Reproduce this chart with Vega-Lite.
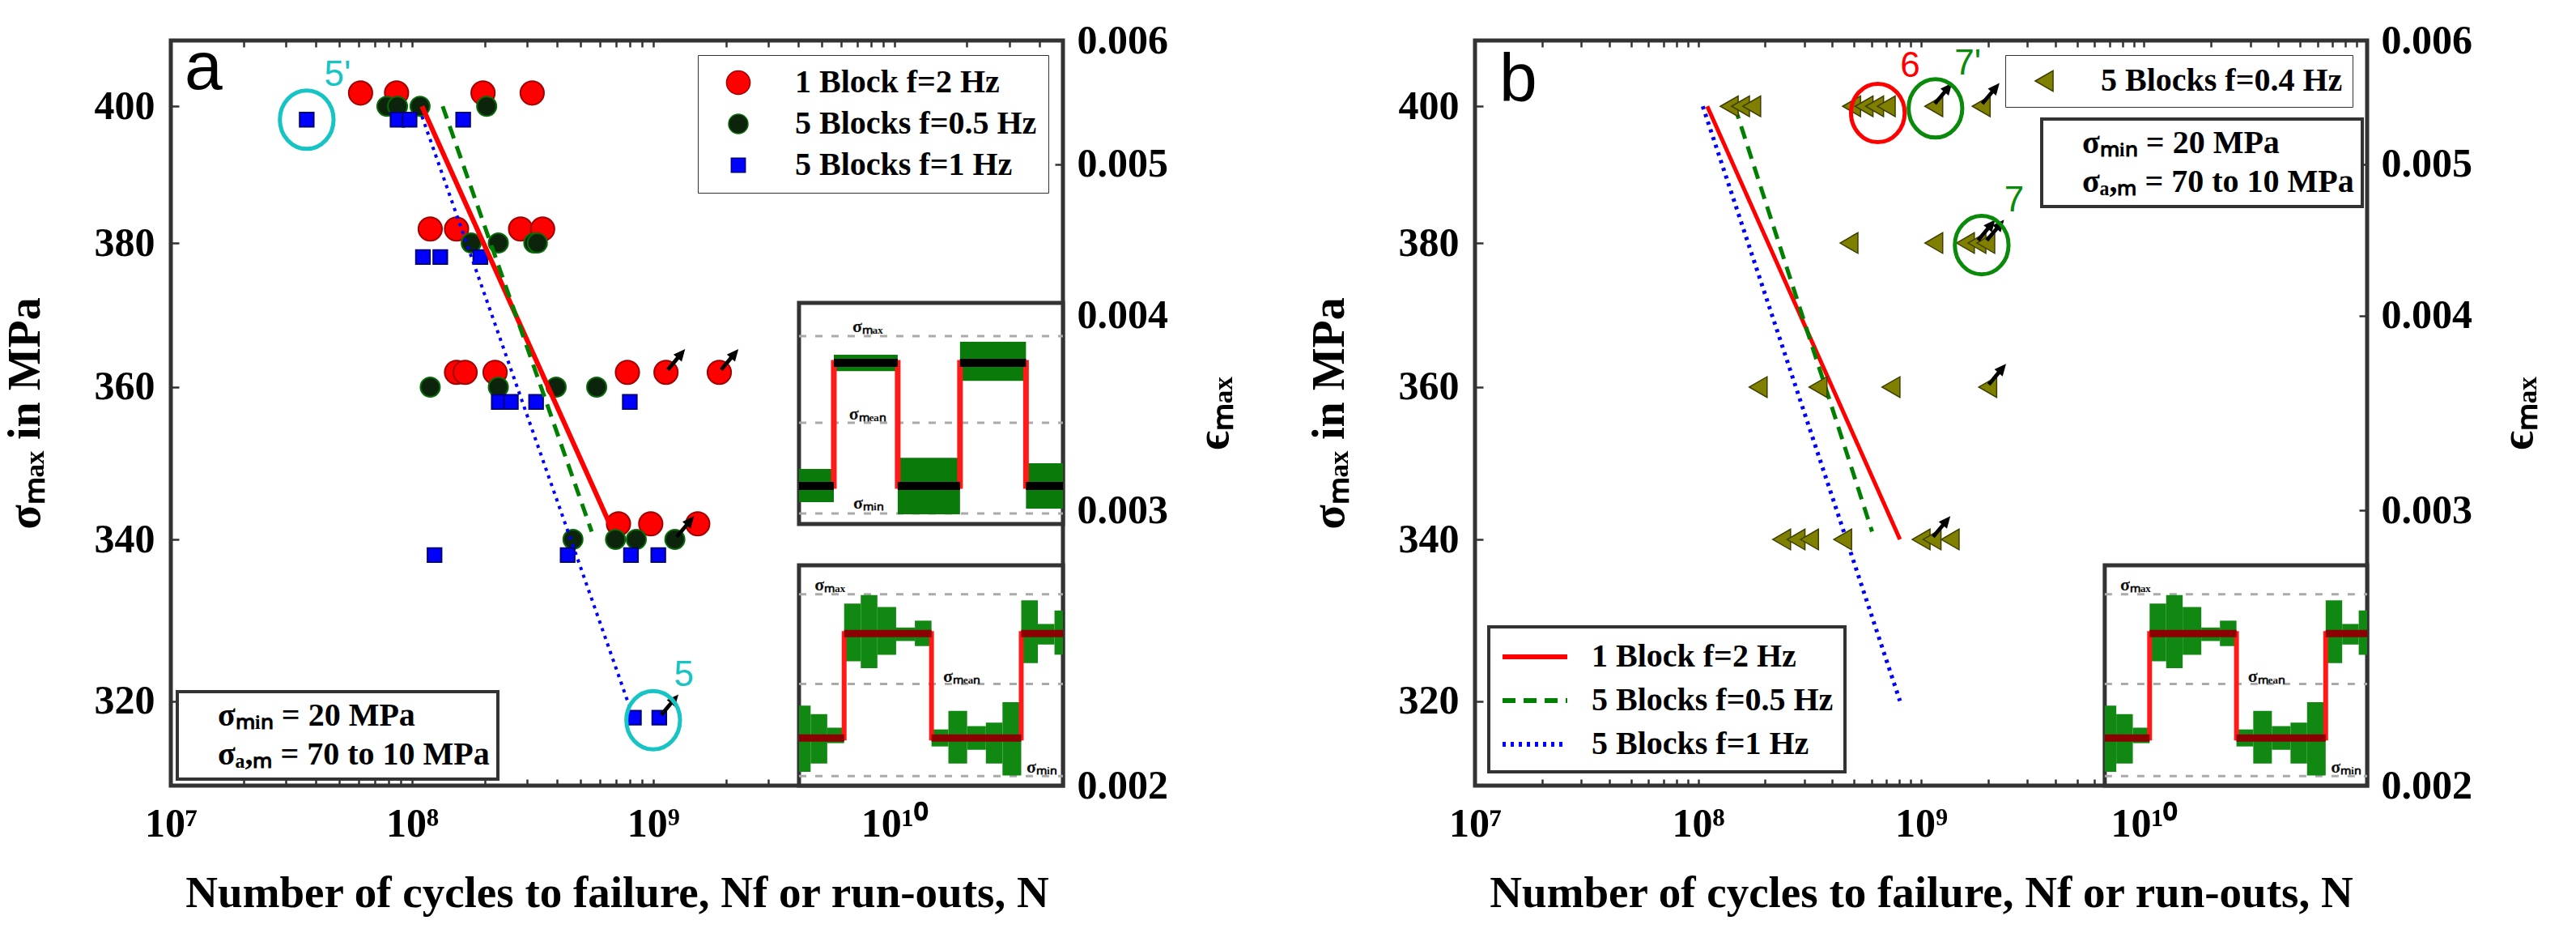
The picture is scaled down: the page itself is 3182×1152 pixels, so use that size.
{
  "$schema": "https://vega.github.io/schema/vega-lite/v6.json",
  "background": "white",
  "autosize": {"type": "pad"},
  "padding": {"left": 0, "top": 22, "right": 10, "bottom": 10},
  "spacing": 81,
  "resolve": {"scale": {"color": "independent", "stroke": "independent", "shape": "independent", "size": "independent", "fill": "independent", "strokeDash": "independent"}},
  "config": {
    "view": {"stroke": "#333333", "strokeWidth": 5},
    "font": "Liberation Serif",
    "axis": {
      "domain": false, "grid": false,
      "labelFont": "Liberation Serif", "labelFontSize": 50, "labelFontWeight": "bold", "labelColor": "#000000",
      "titleFont": "Liberation Serif", "titleFontSize": 56, "titleFontWeight": "bold", "titleColor": "#000000",
      "tickColor": "#333333", "tickWidth": 2.5,
      "labelFlush": false, "labelOverlap": false, "labelBound": false
    },
    "legend": {
      "labelFont": "Liberation Serif", "labelFontSize": 40, "labelFontWeight": "bold", "labelColor": "#000000",
      "strokeColor": "#333333", "fillColor": "#ffffff", "cornerRadius": 0, "labelLimit": 800
    }
  },
  "datasets": {
    "ptsA": [
      {"series": "1 Block f=2 Hz", "N": 6.12e7, "s": 402, "ro": 0},
      {"series": "1 Block f=2 Hz", "N": 8.63e7, "s": 402, "ro": 0},
      {"series": "1 Block f=2 Hz", "N": 1.97e8, "s": 402, "ro": 0},
      {"series": "1 Block f=2 Hz", "N": 3.15e8, "s": 402, "ro": 0},
      {"series": "1 Block f=2 Hz", "N": 1.19e8, "s": 382, "ro": 0},
      {"series": "1 Block f=2 Hz", "N": 1.53e8, "s": 382, "ro": 0},
      {"series": "1 Block f=2 Hz", "N": 2.82e8, "s": 382, "ro": 0},
      {"series": "1 Block f=2 Hz", "N": 3.48e8, "s": 382, "ro": 0},
      {"series": "1 Block f=2 Hz", "N": 1.53e8, "s": 362, "ro": 0},
      {"series": "1 Block f=2 Hz", "N": 1.66e8, "s": 362, "ro": 0},
      {"series": "1 Block f=2 Hz", "N": 2.21e8, "s": 362, "ro": 0},
      {"series": "1 Block f=2 Hz", "N": 7.82e8, "s": 362, "ro": 0},
      {"series": "1 Block f=2 Hz", "N": 1.13e9, "s": 362, "ro": 1},
      {"series": "1 Block f=2 Hz", "N": 1.88e9, "s": 362, "ro": 1},
      {"series": "1 Block f=2 Hz", "N": 7.18e8, "s": 342, "ro": 0},
      {"series": "1 Block f=2 Hz", "N": 9.77e8, "s": 342, "ro": 0},
      {"series": "1 Block f=2 Hz", "N": 1.53e9, "s": 342, "ro": 0},
      {"series": "5 Blocks f=0.5 Hz", "N": 7.87e7, "s": 400, "ro": 0},
      {"series": "5 Blocks f=0.5 Hz", "N": 8.71e7, "s": 400, "ro": 0},
      {"series": "5 Blocks f=0.5 Hz", "N": 1.08e8, "s": 400, "ro": 0},
      {"series": "5 Blocks f=0.5 Hz", "N": 2.04e8, "s": 400, "ro": 0},
      {"series": "5 Blocks f=0.5 Hz", "N": 1.76e8, "s": 380, "ro": 0},
      {"series": "5 Blocks f=0.5 Hz", "N": 2.28e8, "s": 380, "ro": 0},
      {"series": "5 Blocks f=0.5 Hz", "N": 3.2e8, "s": 380, "ro": 0},
      {"series": "5 Blocks f=0.5 Hz", "N": 3.31e8, "s": 380, "ro": 0},
      {"series": "5 Blocks f=0.5 Hz", "N": 1.19e8, "s": 360, "ro": 0},
      {"series": "5 Blocks f=0.5 Hz", "N": 2.28e8, "s": 360, "ro": 0},
      {"series": "5 Blocks f=0.5 Hz", "N": 3.96e8, "s": 360, "ro": 0},
      {"series": "5 Blocks f=0.5 Hz", "N": 5.83e8, "s": 360, "ro": 0},
      {"series": "5 Blocks f=0.5 Hz", "N": 4.65e8, "s": 340, "ro": 0},
      {"series": "5 Blocks f=0.5 Hz", "N": 6.98e8, "s": 340, "ro": 0},
      {"series": "5 Blocks f=0.5 Hz", "N": 8.51e8, "s": 340, "ro": 0},
      {"series": "5 Blocks f=0.5 Hz", "N": 1.23e9, "s": 340, "ro": 1},
      {"series": "5 Blocks f=1 Hz", "N": 3.66e7, "s": 398, "ro": 0},
      {"series": "5 Blocks f=1 Hz", "N": 8.71e7, "s": 398, "ro": 0},
      {"series": "5 Blocks f=1 Hz", "N": 9.77e7, "s": 398, "ro": 0},
      {"series": "5 Blocks f=1 Hz", "N": 1.63e8, "s": 398, "ro": 0},
      {"series": "5 Blocks f=1 Hz", "N": 1.11e8, "s": 378, "ro": 0},
      {"series": "5 Blocks f=1 Hz", "N": 1.31e8, "s": 378, "ro": 0},
      {"series": "5 Blocks f=1 Hz", "N": 1.92e8, "s": 378, "ro": 0},
      {"series": "5 Blocks f=1 Hz", "N": 2.29e8, "s": 358, "ro": 0},
      {"series": "5 Blocks f=1 Hz", "N": 2.57e8, "s": 358, "ro": 0},
      {"series": "5 Blocks f=1 Hz", "N": 3.27e8, "s": 358, "ro": 0},
      {"series": "5 Blocks f=1 Hz", "N": 8.0e8, "s": 358, "ro": 0},
      {"series": "5 Blocks f=1 Hz", "N": 1.24e8, "s": 338, "ro": 0},
      {"series": "5 Blocks f=1 Hz", "N": 4.42e8, "s": 338, "ro": 0},
      {"series": "5 Blocks f=1 Hz", "N": 8.09e8, "s": 338, "ro": 0},
      {"series": "5 Blocks f=1 Hz", "N": 1.05e9, "s": 338, "ro": 0},
      {"series": "5 Blocks f=1 Hz", "N": 8.32e8, "s": 318, "ro": 0},
      {"series": "5 Blocks f=1 Hz", "N": 1.06e9, "s": 318, "ro": 1}
    ],
    "fitA": [
      {"series": "1 Block f=2 Hz", "i": 0, "N": 1.1e8, "s": 400},
      {"series": "1 Block f=2 Hz", "i": 1, "N": 6.6e8, "s": 342},
      {"series": "5 Blocks f=0.5 Hz", "i": 0, "N": 1.34e8, "s": 400},
      {"series": "5 Blocks f=0.5 Hz", "i": 1, "N": 5.56e8, "s": 341},
      {"series": "5 Blocks f=1 Hz", "i": 0, "N": 1.1e8, "s": 398.5},
      {"series": "5 Blocks f=1 Hz", "i": 1, "N": 7.94e8, "s": 319.5}
    ],
    "ptsB": [
      {"series": "5 Blocks f=0.4 Hz", "N": 1.38e8, "s": 400, "ro": 0},
      {"series": "5 Blocks f=0.4 Hz", "N": 1.55e8, "s": 400, "ro": 0},
      {"series": "5 Blocks f=0.4 Hz", "N": 1.74e8, "s": 400, "ro": 0},
      {"series": "5 Blocks f=0.4 Hz", "N": 4.88e8, "s": 400, "ro": 0},
      {"series": "5 Blocks f=0.4 Hz", "N": 5.55e8, "s": 400, "ro": 0},
      {"series": "5 Blocks f=0.4 Hz", "N": 6.19e8, "s": 400, "ro": 0},
      {"series": "5 Blocks f=0.4 Hz", "N": 6.98e8, "s": 400, "ro": 0},
      {"series": "5 Blocks f=0.4 Hz", "N": 1.14e9, "s": 400, "ro": 1},
      {"series": "5 Blocks f=0.4 Hz", "N": 1.86e9, "s": 400, "ro": 1},
      {"series": "5 Blocks f=0.4 Hz", "N": 4.75e8, "s": 380, "ro": 0},
      {"series": "5 Blocks f=0.4 Hz", "N": 1.14e9, "s": 380, "ro": 0},
      {"series": "5 Blocks f=0.4 Hz", "N": 1.58e9, "s": 380, "ro": 0},
      {"series": "5 Blocks f=0.4 Hz", "N": 1.78e9, "s": 380, "ro": 1},
      {"series": "5 Blocks f=0.4 Hz", "N": 1.95e9, "s": 380, "ro": 1},
      {"series": "5 Blocks f=0.4 Hz", "N": 1.86e8, "s": 360, "ro": 0},
      {"series": "5 Blocks f=0.4 Hz", "N": 3.45e8, "s": 360, "ro": 0},
      {"series": "5 Blocks f=0.4 Hz", "N": 7.33e8, "s": 360, "ro": 0},
      {"series": "5 Blocks f=0.4 Hz", "N": 1.99e9, "s": 360, "ro": 1},
      {"series": "5 Blocks f=0.4 Hz", "N": 2.37e8, "s": 340, "ro": 0},
      {"series": "5 Blocks f=0.4 Hz", "N": 2.75e8, "s": 340, "ro": 0},
      {"series": "5 Blocks f=0.4 Hz", "N": 3.16e8, "s": 340, "ro": 0},
      {"series": "5 Blocks f=0.4 Hz", "N": 4.45e8, "s": 340, "ro": 0},
      {"series": "5 Blocks f=0.4 Hz", "N": 1.0e9, "s": 340, "ro": 0},
      {"series": "5 Blocks f=0.4 Hz", "N": 1.12e9, "s": 340, "ro": 1},
      {"series": "5 Blocks f=0.4 Hz", "N": 1.35e9, "s": 340, "ro": 0}
    ],
    "fitB": [
      {"fit": "1 Block f=2 Hz", "i": 0, "N": 1.1e8, "s": 400},
      {"fit": "1 Block f=2 Hz", "i": 1, "N": 8.04e8, "s": 340},
      {"fit": "5 Blocks f=0.5 Hz", "i": 0, "N": 1.46e8, "s": 400},
      {"fit": "5 Blocks f=0.5 Hz", "i": 1, "N": 6.03e8, "s": 341},
      {"fit": "5 Blocks f=1 Hz", "i": 0, "N": 1.05e8, "s": 400},
      {"fit": "5 Blocks f=1 Hz", "i": 1, "N": 8.04e8, "s": 320}
    ],
    "ringsA": [
      {"N": 3.66e7, "s": 398, "tag": "5'"},
      {"N": 1.0e9, "s": 317.7, "tag": "5"}
    ],
    "ringsB6": [
      {"N": 6.4e8, "s": 399, "tag": "6"}
    ],
    "ringsB7": [
      {"N": 1.16e9, "s": 399.7, "tag": "7'"},
      {"N": 1.87e9, "s": 379.7, "tag": "7"}
    ],
    "notes": [
      {"note": "σₘᵢₙ = 20 MPa"},
      {"note": "σₐ,ₘ = 70 to 10 MPa"}
    ],
    "boxA": [
      {"u0": 0, "u1": 10, "v0": 0, "v1": 9.96},
      {"u0": 0, "u1": 10, "v0": 11.83, "v1": 21.83}
    ],
    "boxB": [
      {"u0": 0, "u1": 10, "v0": 0, "v1": 9.96}
    ],
    "dashLo": [
      {"u0": 0, "u1": 10, "v": 8.65},
      {"u0": 0, "u1": 10, "v": 4.6},
      {"u0": 0, "u1": 10, "v": 0.43}
    ],
    "dashHi": [
      {"u0": 0, "u1": 10, "v": 20.33},
      {"u0": 0, "u1": 10, "v": 16.41},
      {"u0": 0, "u1": 10, "v": 12.31}
    ],
    "greenLo": [
      {"u0": 0, "u1": 0.44, "v0": 0.62, "v1": 3.62},
      {"u0": 0.44, "u1": 1.07, "v0": 1.0, "v1": 3.23},
      {"u0": 1.07, "u1": 1.71, "v0": 1.92, "v1": 2.62},
      {"u0": 1.71, "u1": 2.34, "v0": 5.62, "v1": 8.23},
      {"u0": 2.34, "u1": 2.97, "v0": 5.31, "v1": 8.62},
      {"u0": 2.97, "u1": 3.68, "v0": 5.92, "v1": 8.08},
      {"u0": 3.68, "u1": 4.39, "v0": 6.54, "v1": 7.15},
      {"u0": 4.39, "u1": 5.02, "v0": 6.31, "v1": 7.46},
      {"u0": 5.02, "u1": 5.66, "v0": 1.77, "v1": 2.54},
      {"u0": 5.66, "u1": 6.37, "v0": 1.0, "v1": 3.38},
      {"u0": 6.37, "u1": 7.08, "v0": 1.62, "v1": 2.69},
      {"u0": 7.08, "u1": 7.71, "v0": 1.0, "v1": 2.85},
      {"u0": 7.71, "u1": 8.42, "v0": 0.46, "v1": 3.77},
      {"u0": 8.42, "u1": 9.05, "v0": 5.54, "v1": 8.38},
      {"u0": 9.05, "u1": 9.68, "v0": 6.38, "v1": 7.31},
      {"u0": 9.68, "u1": 10, "v0": 5.92, "v1": 7.92}
    ],
    "greenHi": [
      {"u0": 0, "u1": 1.32, "v0": 12.82, "v1": 14.32},
      {"u0": 1.32, "u1": 3.74, "v0": 18.75, "v1": 19.49},
      {"u0": 3.74, "u1": 6.1, "v0": 12.27, "v1": 14.83},
      {"u0": 6.1, "u1": 8.6, "v0": 18.31, "v1": 20.07},
      {"u0": 8.6, "u1": 10, "v0": 12.53, "v1": 14.58}
    ],
    "waveLo": [
      {"i": 0, "u": 0, "v": 2.15}, {"i": 1, "u": 1.71, "v": 2.15}, {"i": 2, "u": 1.71, "v": 6.88},
      {"i": 3, "u": 5.02, "v": 6.88}, {"i": 4, "u": 5.02, "v": 2.15}, {"i": 5, "u": 8.42, "v": 2.15},
      {"i": 6, "u": 8.42, "v": 6.88}, {"i": 7, "u": 10, "v": 6.88}
    ],
    "waveHi": [
      {"i": 0, "u": 0, "v": 13.55}, {"i": 1, "u": 1.32, "v": 13.55}, {"i": 2, "u": 1.32, "v": 19.12},
      {"i": 3, "u": 3.74, "v": 19.12}, {"i": 4, "u": 3.74, "v": 13.55}, {"i": 5, "u": 6.1, "v": 13.55},
      {"i": 6, "u": 6.1, "v": 19.12}, {"i": 7, "u": 8.6, "v": 19.12}, {"i": 8, "u": 8.6, "v": 13.55},
      {"i": 9, "u": 10, "v": 13.55}
    ],
    "barsLo": [
      {"u0": 0, "u1": 1.71, "v": 2.15}, {"u0": 1.71, "u1": 5.02, "v": 6.88},
      {"u0": 5.02, "u1": 8.42, "v": 2.15}, {"u0": 8.42, "u1": 10, "v": 6.88}
    ],
    "barsHi": [
      {"u0": 0, "u1": 1.32, "v": 13.55}, {"u0": 1.32, "u1": 3.74, "v": 19.12},
      {"u0": 3.74, "u1": 6.1, "v": 13.55}, {"u0": 6.1, "u1": 8.6, "v": 19.12},
      {"u0": 8.6, "u1": 10, "v": 13.55}
    ],
    "labLo": [
      {"u": 1.17, "v": 9.08, "lab": "σₘₐₓ"},
      {"u": 6.17, "v": 4.95, "lab": "σₘₑₐₙ"},
      {"u": 9.2, "v": 0.85, "lab": "σₘᵢₙ"}
    ],
    "labHi": [
      {"u": 2.6, "v": 20.77, "lab": "σₘₐₓ"},
      {"u": 2.6, "v": 16.81, "lab": "σₘₑₐₙ"},
      {"u": 2.64, "v": 12.78, "lab": "σₘᵢₙ"}
    ]
  },
  "hconcat": [
    {
      "width": 1102,
      "height": 920,
      "resolve": {"scale": {"x": "independent", "y": "independent"}},
      "layer": [
        {
          "encoding": {
            "x": {"field": "N", "type": "quantitative",
              "scale": {"type": "log", "domain": [1e7, 5e10], "nice": false},
              "axis": {
                "values": [1e7, 2e7, 3e7, 4e7, 5e7, 6e7, 7e7, 8e7, 9e7, 1e8, 2e8, 3e8, 4e8, 5e8, 6e8, 7e8, 8e8, 9e8, 1e9, 2e9, 3e9, 4e9, 5e9, 6e9, 7e9, 8e9, 9e9, 1e10, 2e10, 3e10, 4e10, 5e10],
                "labelExpr": "datum.value == 10000000 ? '10⁷' : datum.value == 100000000 ? '10⁸' : datum.value == 1000000000 ? '10⁹' : datum.value == 10000000000 ? '10¹⁰' : ''",
                "tickSize": -8, "labelPadding": 30,
                "title": "Number of cycles to failure, Nf or run-outs, N",
                "titleFontSize": 55, "titlePadding": 34
              }
            },
            "y": {"field": "s", "type": "quantitative",
              "scale": {"type": "log", "domain": [310, 410], "nice": false, "zero": false},
              "axis": {
                "values": [320, 340, 360, 380, 400], "format": "d",
                "tickSize": -10, "labelPadding": 30,
                "title": "σₘₐₓ in MPa", "titlePadding": 56
              }
            }
          },
          "layer": [
            {
              "data": {"name": "ptsA"},
              "mark": {"type": "point", "filled": true, "strokeWidth": 2, "opacity": 1},
              "encoding": {
                "color": {"field": "series", "type": "nominal",
                  "scale": {"domain": ["1 Block f=2 Hz", "5 Blocks f=0.5 Hz", "5 Blocks f=1 Hz"], "range": ["#ff0000", "#0c240c", "#0000ff"]},
                  "legend": {"title": null, "orient": "top-right", "offset": 18, "padding": 14, "rowPadding": 11, "symbolOffset": 16, "labelOffset": 50, "encode": {"legend": {"update": {"strokeWidth": {"value": 4}}}}}
                },
                "stroke": {"field": "series", "type": "nominal",
                  "scale": {"domain": ["1 Block f=2 Hz", "5 Blocks f=0.5 Hz", "5 Blocks f=1 Hz"], "range": ["#a00000", "#0a6a0a", "#00007a"]},
                  "legend": {"title": null, "orient": "top-right", "offset": 18, "padding": 14, "rowPadding": 11, "symbolOffset": 16, "labelOffset": 50, "encode": {"legend": {"update": {"strokeWidth": {"value": 4}}}}}
                },
                "shape": {"field": "series", "type": "nominal",
                  "scale": {"domain": ["1 Block f=2 Hz", "5 Blocks f=0.5 Hz", "5 Blocks f=1 Hz"], "range": ["circle", "circle", "square"]},
                  "legend": {"title": null, "orient": "top-right", "offset": 18, "padding": 14, "rowPadding": 11, "symbolOffset": 16, "labelOffset": 50, "encode": {"legend": {"update": {"strokeWidth": {"value": 4}}}}}
                },
                "size": {"field": "series", "type": "nominal",
                  "scale": {"domain": ["1 Block f=2 Hz", "5 Blocks f=0.5 Hz", "5 Blocks f=1 Hz"], "range": [850, 300, 300]},
                  "legend": {"title": null, "orient": "top-right", "offset": 18, "padding": 14, "rowPadding": 11, "symbolOffset": 16, "labelOffset": 50, "encode": {"legend": {"update": {"strokeWidth": {"value": 4}}}}}
                }
              }
            },
            {
              "data": {"name": "fitA"},
              "transform": [{"filter": "datum.series == '1 Block f=2 Hz'"}],
              "mark": {"type": "line", "color": "#ff0000", "strokeWidth": 6},
              "encoding": {"order": {"field": "i", "type": "quantitative"}}
            },
            {
              "data": {"name": "fitA"},
              "transform": [{"filter": "datum.series == '5 Blocks f=0.5 Hz'"}],
              "mark": {"type": "line", "color": "#008000", "strokeWidth": 5, "strokeDash": [16, 10]},
              "encoding": {"order": {"field": "i", "type": "quantitative"}}
            },
            {
              "data": {"name": "fitA"},
              "transform": [{"filter": "datum.series == '5 Blocks f=1 Hz'"}],
              "mark": {"type": "line", "color": "#0000ff", "strokeWidth": 4, "strokeDash": [4, 6]},
              "encoding": {"order": {"field": "i", "type": "quantitative"}}
            },
            {
              "data": {"name": "ptsA"},
              "transform": [{"filter": "datum.ro == 1"}],
              "mark": {"type": "point", "shape": "arrow", "filled": true, "color": "#000000", "opacity": 1, "size": 1100, "angle": 40, "xOffset": 13, "yOffset": -16}
            },
            {
              "data": {"name": "ringsA"},
              "mark": {"type": "point", "shape": "M-0.92,0A0.92,1,0,1,1,0.92,0A0.92,1,0,1,1,-0.92,0Z", "filled": false, "stroke": "#17c4c4", "strokeWidth": 5, "size": 5200, "opacity": 1}
            },
            {
              "data": {"name": "ringsA"},
              "mark": {"type": "text", "font": "Liberation Sans", "fontSize": 44, "color": "#17c4c4", "dx": 38, "dy": -55},
              "encoding": {"text": {"field": "tag", "type": "nominal"}}
            },
            {
              "data": {"name": "notes"},
              "mark": {"type": "point", "filled": true, "opacity": 0},
              "encoding": {
                "fill": {"field": "note", "type": "nominal",
                  "scale": {"domain": ["σₘᵢₙ = 20 MPa", "σₐ,ₘ = 70 to 10 MPa"], "range": ["#ffffff", "#ffffff"]},
                  "legend": {"title": null, "orient": "bottom-left", "offset": 8, "padding": 10, "rowPadding": 8, "symbolSize": 0, "symbolOpacity": 0, "symbolStrokeWidth": 0, "symbolOffset": 0, "labelOffset": 0, "encode": {"legend": {"update": {"strokeWidth": {"value": 4}}}}}
                }
              }
            }
          ]
        },
        {
          "layer": [
            {
              "data": {"name": "boxA"},
              "mark": {"type": "rect", "fill": "#ffffff", "stroke": "#333333", "strokeWidth": 5},
              "encoding": {
                "x": {"field": "u0", "type": "quantitative", "scale": {"domain": [-23.8, 10], "nice": false, "zero": false}, "axis": null},
                "x2": {"field": "u1"},
                "y": {"field": "v0", "type": "quantitative", "scale": {"domain": [0, 33.7], "nice": false, "zero": false}, "axis": null},
                "y2": {"field": "v1"}
              }
            },
            {
              "data": {"name": "dashLo"},
              "mark": {"type": "rule", "color": "#aaaaaa", "strokeWidth": 3, "strokeDash": [9, 11]},
              "encoding": {"x": {"field": "u0", "type": "quantitative"}, "x2": {"field": "u1"}, "y": {"field": "v", "type": "quantitative"}}
            },
            {
              "data": {"name": "dashHi"},
              "mark": {"type": "rule", "color": "#aaaaaa", "strokeWidth": 3, "strokeDash": [9, 11]},
              "encoding": {"x": {"field": "u0", "type": "quantitative"}, "x2": {"field": "u1"}, "y": {"field": "v", "type": "quantitative"}}
            },
            {
              "data": {"name": "greenLo"},
              "mark": {"type": "rect", "color": "#118811"},
              "encoding": {"x": {"field": "u0", "type": "quantitative"}, "x2": {"field": "u1"}, "y": {"field": "v0", "type": "quantitative"}, "y2": {"field": "v1"}}
            },
            {
              "data": {"name": "greenHi"},
              "mark": {"type": "rect", "color": "#0a7a0a"},
              "encoding": {"x": {"field": "u0", "type": "quantitative"}, "x2": {"field": "u1"}, "y": {"field": "v0", "type": "quantitative"}, "y2": {"field": "v1"}}
            },
            {
              "data": {"name": "waveLo"},
              "mark": {"type": "line", "color": "#ff1a1a", "strokeWidth": 6},
              "encoding": {"x": {"field": "u", "type": "quantitative"}, "y": {"field": "v", "type": "quantitative"}, "order": {"field": "i", "type": "quantitative"}}
            },
            {
              "data": {"name": "waveHi"},
              "mark": {"type": "line", "color": "#ff1a1a", "strokeWidth": 7},
              "encoding": {"x": {"field": "u", "type": "quantitative"}, "y": {"field": "v", "type": "quantitative"}, "order": {"field": "i", "type": "quantitative"}}
            },
            {
              "data": {"name": "barsLo"},
              "mark": {"type": "rule", "color": "#8b0000", "strokeWidth": 9},
              "encoding": {"x": {"field": "u0", "type": "quantitative"}, "x2": {"field": "u1"}, "y": {"field": "v", "type": "quantitative"}}
            },
            {
              "data": {"name": "barsHi"},
              "mark": {"type": "rule", "color": "#000000", "strokeWidth": 10},
              "encoding": {"x": {"field": "u0", "type": "quantitative"}, "x2": {"field": "u1"}, "y": {"field": "v", "type": "quantitative"}}
            },
            {
              "data": {"name": "labLo"},
              "mark": {"type": "text", "font": "Liberation Serif", "fontSize": 22, "fontWeight": "bold", "color": "#111111"},
              "encoding": {"x": {"field": "u", "type": "quantitative"}, "y": {"field": "v", "type": "quantitative"}, "text": {"field": "lab", "type": "nominal"}}
            },
            {
              "data": {"name": "labHi"},
              "mark": {"type": "text", "font": "Liberation Serif", "fontSize": 22, "fontWeight": "bold", "color": "#111111"},
              "encoding": {"x": {"field": "u", "type": "quantitative"}, "y": {"field": "v", "type": "quantitative"}, "text": {"field": "lab", "type": "nominal"}}
            }
          ]
        },
        {
          "data": {"values": [{"N": 1e7, "e": 0.002}, {"N": 5e10, "e": 0.006}]},
          "mark": {"type": "point", "opacity": 0},
          "encoding": {
            "x": {"field": "N", "type": "quantitative",
              "scale": {"type": "log", "domain": [1e7, 5e10], "nice": false},
              "axis": {"orient": "top", "labels": false, "title": null, "tickSize": -8,
                "values": [1e7, 2e7, 3e7, 4e7, 5e7, 6e7, 7e7, 8e7, 9e7, 1e8, 2e8, 3e8, 4e8, 5e8, 6e8, 7e8, 8e8, 9e8, 1e9, 2e9, 3e9, 4e9, 5e9, 6e9, 7e9, 8e9, 9e9, 1e10, 2e10, 3e10, 4e10, 5e10]}
            },
            "y": {"field": "e", "type": "quantitative",
              "scale": {"type": "log", "domain": [0.002, 0.006], "nice": false, "zero": false},
              "axis": {"orient": "right", "values": [0.002, 0.003, 0.004, 0.005, 0.006], "format": ".3f",
                "tickSize": -10, "labelPadding": 27, "title": "ϵₘₐₓ", "titleAngle": 270, "titleBaseline": "top", "titlePadding": 30}
            }
          }
        },
        {
          "data": {"values": [{}]},
          "mark": {"type": "text", "text": "a", "font": "Liberation Sans", "fontSize": 84, "align": "left", "baseline": "alphabetic", "color": "#000000"},
          "encoding": {
            "x": {"datum": 1.14e7, "type": "quantitative", "scale": {"type": "log", "domain": [1e7, 5e10], "nice": false}, "axis": null},
            "y": {"datum": 402.6, "type": "quantitative", "scale": {"type": "log", "domain": [310, 410], "nice": false, "zero": false}, "axis": null}
          }
        }
      ]
    },
    {
      "width": 1102,
      "height": 920,
      "resolve": {"scale": {"x": "independent", "y": "independent"}},
      "layer": [
        {
          "encoding": {
            "x": {"field": "N", "type": "quantitative",
              "scale": {"type": "log", "domain": [1e7, 1e11], "nice": false},
              "axis": {
                "values": [1e7, 2e7, 3e7, 4e7, 5e7, 6e7, 7e7, 8e7, 9e7, 1e8, 2e8, 3e8, 4e8, 5e8, 6e8, 7e8, 8e8, 9e8, 1e9, 2e9, 3e9, 4e9, 5e9, 6e9, 7e9, 8e9, 9e9, 1e10, 2e10, 3e10, 4e10, 5e10, 6e10, 7e10, 8e10, 9e10, 1e11],
                "labelExpr": "datum.value == 10000000 ? '10⁷' : datum.value == 100000000 ? '10⁸' : datum.value == 1000000000 ? '10⁹' : datum.value == 10000000000 ? '10¹⁰' : ''",
                "tickSize": -8, "labelPadding": 30,
                "title": "Number of cycles to failure, Nf or run-outs, N",
                "titleFontSize": 55, "titlePadding": 34
              }
            },
            "y": {"field": "s", "type": "quantitative",
              "scale": {"type": "log", "domain": [310, 410], "nice": false, "zero": false},
              "axis": {
                "values": [320, 340, 360, 380, 400], "format": "d",
                "tickSize": -10, "labelPadding": 30,
                "title": "σₘₐₓ in MPa", "titlePadding": 56
              }
            }
          },
          "layer": [
            {
              "data": {"name": "fitB"},
              "mark": {"type": "line", "strokeWidth": 5},
              "encoding": {
                "order": {"field": "i", "type": "quantitative"},
                "stroke": {"field": "fit", "type": "nominal",
                  "scale": {"domain": ["1 Block f=2 Hz", "5 Blocks f=0.5 Hz", "5 Blocks f=1 Hz"], "range": ["#ff0000", "#008000", "#0000ff"]},
                  "legend": {"title": null, "orient": "bottom-left", "offset": 17, "padding": 14, "rowPadding": 11, "symbolType": "M-2,0L2,0", "symbolSize": 1600, "symbolStrokeWidth": 6, "symbolOffset": 20, "labelOffset": 47, "encode": {"legend": {"update": {"strokeWidth": {"value": 4}}}}}
                },
                "strokeDash": {"field": "fit", "type": "nominal",
                  "scale": {"domain": ["1 Block f=2 Hz", "5 Blocks f=0.5 Hz", "5 Blocks f=1 Hz"], "range": [[1, 0], [16, 10], [4, 6]]},
                  "legend": {"title": null, "orient": "bottom-left", "offset": 17, "padding": 14, "rowPadding": 11, "symbolType": "M-2,0L2,0", "symbolSize": 1600, "symbolStrokeWidth": 6, "symbolOffset": 20, "labelOffset": 47, "encode": {"legend": {"update": {"strokeWidth": {"value": 4}}}}}
                }
              }
            },
            {
              "data": {"name": "ptsB"},
              "mark": {"type": "point", "shape": "triangle-left", "filled": true, "stroke": "#3d3d00", "strokeWidth": 1.5, "size": 650, "opacity": 1},
              "encoding": {
                "color": {"field": "series", "type": "nominal",
                  "scale": {"domain": ["5 Blocks f=0.4 Hz"], "range": ["#808000"]},
                  "legend": {"title": null, "orient": "top-right", "offset": 18, "padding": 12, "symbolType": "triangle-left", "symbolSize": 650, "symbolOffset": 16, "labelOffset": 50, "encode": {"legend": {"update": {"strokeWidth": {"value": 4}}}}}
                }
              }
            },
            {
              "data": {"name": "ptsB"},
              "transform": [{"filter": "datum.ro == 1"}],
              "mark": {"type": "point", "shape": "arrow", "filled": true, "color": "#000000", "opacity": 1, "size": 1100, "angle": 40, "xOffset": 12, "yOffset": -16}
            },
            {
              "data": {"name": "ringsB6"},
              "mark": {"type": "point", "shape": "M-0.92,0A0.92,1,0,1,1,0.92,0A0.92,1,0,1,1,-0.92,0Z", "filled": false, "stroke": "#ff0000", "strokeWidth": 5, "size": 5200, "opacity": 1}
            },
            {
              "data": {"name": "ringsB6"},
              "mark": {"type": "text", "font": "Liberation Sans", "fontSize": 44, "color": "#ff0000", "dx": 40, "dy": -57},
              "encoding": {"text": {"field": "tag", "type": "nominal"}}
            },
            {
              "data": {"name": "ringsB7"},
              "mark": {"type": "point", "shape": "M-0.92,0A0.92,1,0,1,1,0.92,0A0.92,1,0,1,1,-0.92,0Z", "filled": false, "stroke": "#0a8a0a", "strokeWidth": 5, "size": 5200, "opacity": 1}
            },
            {
              "data": {"name": "ringsB7"},
              "mark": {"type": "text", "font": "Liberation Sans", "fontSize": 44, "color": "#0a8a0a", "dx": 40, "dy": -55},
              "encoding": {"text": {"field": "tag", "type": "nominal"}}
            },
            {
              "data": {"name": "notes"},
              "mark": {"type": "point", "filled": true, "opacity": 0},
              "encoding": {
                "fill": {"field": "note", "type": "nominal",
                  "scale": {"domain": ["σₘᵢₙ = 20 MPa", "σₐ,ₘ = 70 to 10 MPa"], "range": ["#ffffff", "#ffffff"]},
                  "legend": {"title": null, "orient": "none", "legendX": 700, "legendY": 97, "padding": 10, "rowPadding": 8, "symbolSize": 0, "symbolOpacity": 0, "symbolStrokeWidth": 0, "symbolOffset": 0, "labelOffset": 0, "encode": {"legend": {"update": {"strokeWidth": {"value": 4}}}}}
                }
              }
            }
          ]
        },
        {
          "layer": [
            {
              "data": {"name": "boxB"},
              "mark": {"type": "rect", "fill": "#ffffff", "stroke": "#333333", "strokeWidth": 5},
              "encoding": {
                "x": {"field": "u0", "type": "quantitative", "scale": {"domain": [-24.0, 10], "nice": false, "zero": false}, "axis": null},
                "x2": {"field": "u1"},
                "y": {"field": "v0", "type": "quantitative", "scale": {"domain": [0, 33.7], "nice": false, "zero": false}, "axis": null},
                "y2": {"field": "v1"}
              }
            },
            {
              "data": {"name": "dashLo"},
              "mark": {"type": "rule", "color": "#aaaaaa", "strokeWidth": 3, "strokeDash": [9, 11]},
              "encoding": {"x": {"field": "u0", "type": "quantitative"}, "x2": {"field": "u1"}, "y": {"field": "v", "type": "quantitative"}}
            },
            {
              "data": {"name": "greenLo"},
              "mark": {"type": "rect", "color": "#118811"},
              "encoding": {"x": {"field": "u0", "type": "quantitative"}, "x2": {"field": "u1"}, "y": {"field": "v0", "type": "quantitative"}, "y2": {"field": "v1"}}
            },
            {
              "data": {"name": "waveLo"},
              "mark": {"type": "line", "color": "#ff1a1a", "strokeWidth": 6},
              "encoding": {"x": {"field": "u", "type": "quantitative"}, "y": {"field": "v", "type": "quantitative"}, "order": {"field": "i", "type": "quantitative"}}
            },
            {
              "data": {"name": "barsLo"},
              "mark": {"type": "rule", "color": "#8b0000", "strokeWidth": 9},
              "encoding": {"x": {"field": "u0", "type": "quantitative"}, "x2": {"field": "u1"}, "y": {"field": "v", "type": "quantitative"}}
            },
            {
              "data": {"name": "labLo"},
              "mark": {"type": "text", "font": "Liberation Serif", "fontSize": 22, "fontWeight": "bold", "color": "#111111"},
              "encoding": {"x": {"field": "u", "type": "quantitative"}, "y": {"field": "v", "type": "quantitative"}, "text": {"field": "lab", "type": "nominal"}}
            }
          ]
        },
        {
          "data": {"values": [{"N": 1e7, "e": 0.002}, {"N": 1e11, "e": 0.006}]},
          "mark": {"type": "point", "opacity": 0},
          "encoding": {
            "x": {"field": "N", "type": "quantitative",
              "scale": {"type": "log", "domain": [1e7, 1e11], "nice": false},
              "axis": {"orient": "top", "labels": false, "title": null, "tickSize": -8,
                "values": [1e7, 2e7, 3e7, 4e7, 5e7, 6e7, 7e7, 8e7, 9e7, 1e8, 2e8, 3e8, 4e8, 5e8, 6e8, 7e8, 8e8, 9e8, 1e9, 2e9, 3e9, 4e9, 5e9, 6e9, 7e9, 8e9, 9e9, 1e10, 2e10, 3e10, 4e10, 5e10, 6e10, 7e10, 8e10, 9e10, 1e11]}
            },
            "y": {"field": "e", "type": "quantitative",
              "scale": {"type": "log", "domain": [0.002, 0.006], "nice": false, "zero": false},
              "axis": {"orient": "right", "values": [0.002, 0.003, 0.004, 0.005, 0.006], "format": ".3f",
                "tickSize": -10, "labelPadding": 27, "title": "ϵₘₐₓ", "titleAngle": 270, "titleBaseline": "top", "titlePadding": 30}
            }
          }
        },
        {
          "data": {"values": [{}]},
          "mark": {"type": "text", "text": "b", "font": "Liberation Sans", "fontSize": 84, "align": "left", "baseline": "alphabetic", "color": "#000000"},
          "encoding": {
            "x": {"datum": 1.285e7, "type": "quantitative", "scale": {"type": "log", "domain": [1e7, 1e11], "nice": false}, "axis": null},
            "y": {"datum": 400.7, "type": "quantitative", "scale": {"type": "log", "domain": [310, 410], "nice": false, "zero": false}, "axis": null}
          }
        }
      ]
    }
  ]
}
